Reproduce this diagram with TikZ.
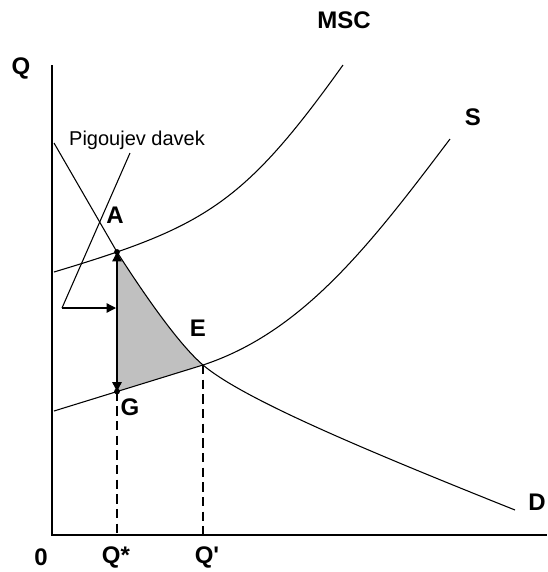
\documentclass[tikz,border=0pt]{standalone}
\usepackage{fontspec}
\setmainfont{Liberation Sans}
\usetikzlibrary{arrows.meta}
\begin{document}
\begin{tikzpicture}[x=0.75pt,y=-0.75pt,
  lbl/.style={font=\fontsize{18}{20}\selectfont\bfseries, inner sep=0pt},
  small/.style={font=\fontsize{15}{17}\selectfont, inner sep=0pt},
  curve/.style={line width=0.8pt},
  axis/.style={line width=1.5pt},
  guide/.style={line width=1pt, dash pattern=on 7pt off 4pt},
  arrline/.style={line width=1pt},
  tip/.tip={Triangle[length=7pt,width=7pt]},
  shade/.style={fill={rgb,255:red,192;green,192;blue,192}}]
\useasboundingbox (0,0) rectangle (547,572);
% key points
\coordinate (O) at (52,535);
\coordinate (Ytop) at (52,65);
\coordinate (Xend) at (547,535);
\coordinate (A) at (117,252);
\coordinate (G) at (117,391.5);
\coordinate (E) at (203,365);
\coordinate (Gb) at (117,535);
\coordinate (Eb) at (203,535);
\coordinate (P0) at (62,308);
\coordinate (P1) at (130,153);
\coordinate (H) at (116,308);
\coordinate (D0) at (54,143);
\coordinate (D1) at (515,510);
\coordinate (S0) at (54,411);
\coordinate (S1) at (450,139);
\coordinate (M0) at (54,272);
\coordinate (M1) at (343,65);
% shaded area
\fill[shade] (A) -- (G) -- (E) .. controls (178,343.75) and (142,291) .. (A) -- cycle;
% axes
\draw[axis] (Ytop) -- (O) -- (Xend);
% curves
\draw[curve] (D0) -- (A) .. controls (142,291) and (178,343.75) .. (E) .. controls (243,399) and (365,450) .. (D1);
\draw[curve] (S0) -- (E) .. controls (303,332) and (370,245) .. (S1);
\draw[curve] (M0) .. controls (204,227) and (243,205) .. (M1);
% Pigou
\draw[curve] (P1) -- (P0);
\draw[arrline, -tip] (P0) -- (H);
% vertical double arrow
\draw[arrline, tip-tip] (A) -- (G);
\fill (A) circle (2.2pt);
\fill (G) circle (2.2pt);
% guides
\draw[guide] (G) -- (Gb);
\draw[guide] (E) -- (Eb);
% labels
\node[lbl] (lQ) at (21,68) {Q};
\node[lbl] (lMSC) at (344,20) {MSC};
\node[lbl] (lS) at (473,117) {S};
\node[lbl] (lD) at (537,502) {D};
\node[lbl] (l0) at (41,557) {0};
\node[lbl] (lQs) at (116,557) {Q*};
\node[lbl] (lQp) at (207,557) {Q\textquotesingle};
\node[lbl] (lA) at (115,215) {A};
\node[lbl] (lE) at (198,328) {E};
\node[lbl] (lG) at (130,407) {G};
\node[small] (lP) at (137,140) {Pigoujev davek};
\end{tikzpicture}
\end{document}
